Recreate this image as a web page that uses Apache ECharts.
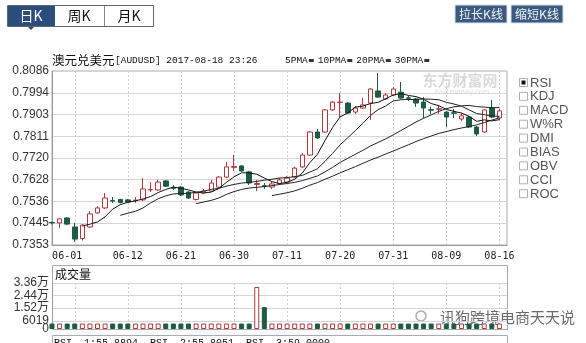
<!DOCTYPE html>
<html><head><meta charset="utf-8">
<script src="https://cdn.jsdelivr.net/npm/echarts@6/dist/echarts.min.js"></script>
<style>html,body{margin:0;padding:0;background:#fff}#c{width:586px;height:343px}</style>
</head><body><div id="c"></div>
<script>
// ---------- data ----------
const categories = ['05-30','05-31','06-01','06-02','06-05','06-06','06-07','06-08','06-09','06-11',
  '06-12','06-13','06-14','06-15','06-16','06-19','06-20','06-21','06-22','06-23',
  '06-26','06-27','06-28','06-29','06-30','07-03','07-04','07-05','07-06','07-07',
  '07-10','07-11','07-12','07-13','07-14','07-17','07-18','07-19','07-20','07-21',
  '07-24','07-25','07-26','07-27','07-28','07-31','08-01','08-02','08-03','08-04',
  '08-07','08-08','08-09','08-10','08-11','08-12','08-13','08-14','08-15','08-16',''];
const openP  = [0.7448,0.7446,0.7467,0.7429,0.7380,0.7429,0.7488,0.7509,0.7540,0.7545,
  0.7543,0.7540,0.7543,0.7585,0.7585,0.7623,0.7594,0.7597,0.7576,0.7545,
  0.7572,0.7580,0.7597,0.7639,0.7680,0.7686,0.7661,0.7608,0.7603,0.7597,
  0.7612,0.7618,0.7639,0.7682,0.7732,0.7829,0.7829,0.7922,0.7953,0.7951,
  0.7913,0.7930,0.7951,0.8002,0.7968,0.7985,0.7997,0.7973,0.7968,0.7955,
  0.7923,0.7925,0.7913,0.7910,0.7884,0.7892,0.7850,0.7829,0.7930,0.7888];
const closeP = [0.7446,0.7463,0.7441,0.7378,0.7437,0.7484,0.7509,0.7551,0.7538,0.7532,
  0.7534,0.7542,0.7589,0.7587,0.7618,0.7601,0.7592,0.7564,0.7551,0.7572,
  0.7580,0.7614,0.7639,0.7682,0.7684,0.7665,0.7614,0.7612,0.7601,0.7610,
  0.7627,0.7635,0.7677,0.7732,0.7829,0.7804,0.7922,0.7955,0.7955,0.7909,
  0.7930,0.7943,0.8010,0.7976,0.7985,0.8010,0.7972,0.7971,0.7951,0.7930,
  0.7921,0.7927,0.7892,0.7908,0.7897,0.7850,0.7821,0.7922,0.7892,0.7918];
const lowP   = [0.7440,0.7425,0.7437,0.7366,0.7372,0.7425,0.7484,0.7505,0.7530,0.7528,
  0.7530,0.7530,0.7538,0.7576,0.7580,0.7597,0.7585,0.7559,0.7547,0.7541,
  0.7568,0.7576,0.7593,0.7635,0.7665,0.7661,0.7606,0.7580,0.7589,0.7589,
  0.7606,0.7614,0.7635,0.7677,0.7728,0.7800,0.7825,0.7918,0.7892,0.7905,
  0.7905,0.7926,0.7880,0.7972,0.7964,0.7981,0.7968,0.7960,0.7935,0.7888,
  0.7905,0.7905,0.7850,0.7888,0.7876,0.7846,0.7812,0.7825,0.7888,0.7880];
const highP  = [0.7452,0.7467,0.7471,0.7446,0.7441,0.7496,0.7517,0.7572,0.7555,0.7547,
  0.7547,0.7555,0.7635,0.7618,0.7627,0.7627,0.7606,0.7601,0.7580,0.7576,
  0.7589,0.7627,0.7644,0.7703,0.7732,0.7690,0.7665,0.7627,0.7614,0.7618,
  0.7635,0.7644,0.7682,0.7740,0.7833,0.7842,0.7926,0.7960,0.7993,0.7955,
  0.7939,0.7972,0.8014,0.8078,0.7993,0.8018,0.8040,0.7981,0.7972,0.7976,
  0.7935,0.7943,0.7918,0.7926,0.7909,0.7897,0.7854,0.7926,0.7964,0.7926];
const volume = [4000,4000,4000,4000,4000,4000,4000,4000,4000,4000,
  4000,4000,4000,4000,4000,4000,4000,4000,4000,4000,
  4000,4000,4000,4000,4000,4000,4000,30700,16000,4000,
  4000,4000,4000,4000,4000,4000,4000,4000,4000,4000,
  4000,4000,4000,4000,4000,4000,4000,4000,4000,4000,
  4000,4000,4000,4000,4000,4000,4000,4000,4000,4000];
const ma5 = [null,null,null,null,0.7433,0.7441,0.7450,0.7472,0.7504,0.7523,
  0.7533,0.7539,0.7547,0.7557,0.7574,0.7587,0.7597,0.7592,0.7585,0.7576,
  0.7572,0.7576,0.7591,0.7617,0.7640,0.7657,0.7657,0.7651,0.7635,0.7620,
  0.7612,0.7617,0.7630,0.7656,0.7700,0.7735,0.7793,0.7848,0.7893,0.7909,
  0.7934,0.7938,0.7949,0.7954,0.7969,0.7985,0.7991,0.7983,0.7978,0.7967,
  0.7949,0.7940,0.7924,0.7916,0.7909,0.7895,0.7874,0.7880,0.7876,0.7881];
const ma10 = [null,null,null,null,null,null,null,null,null,0.7478,
  0.7487,0.7495,0.7509,0.7530,0.7548,0.7560,0.7568,0.7570,0.7571,0.7575,
  0.7580,0.7587,0.7592,0.7601,0.7608,0.7614,0.7617,0.7621,0.7626,0.7630,
  0.7635,0.7637,0.7641,0.7646,0.7660,0.7674,0.7705,0.7739,0.7775,0.7805,
  0.7835,0.7866,0.7899,0.7923,0.7939,0.7960,0.7965,0.7966,0.7966,0.7968,
  0.7967,0.7965,0.7954,0.7947,0.7938,0.7922,0.7907,0.7902,0.7896,0.7895];
const ma20 = [null,null,null,null,null,null,null,null,null,null,
  null,null,null,null,null,null,null,null,null,0.7527,
  0.7534,0.7541,0.7551,0.7566,0.7578,0.7587,0.7593,0.7596,0.7599,0.7603,
  0.7608,0.7612,0.7617,0.7624,0.7634,0.7644,0.7661,0.7680,0.7701,0.7718,
  0.7735,0.7752,0.7770,0.7785,0.7800,0.7817,0.7835,0.7853,0.7871,0.7887,
  0.7901,0.7916,0.7927,0.7935,0.7939,0.7941,0.7936,0.7934,0.7931,0.7932];
const ma30 = [null,null,null,null,null,null,null,null,null,null,
  null,null,null,null,null,null,null,null,null,null,
  null,null,null,null,null,null,null,null,null,0.7561,
  0.7567,0.7573,0.7581,0.7592,0.7605,0.7616,0.7630,0.7643,0.7657,0.7670,
  0.7683,0.7697,0.7711,0.7723,0.7736,0.7749,0.7762,0.7775,0.7789,0.7801,
  0.7812,0.7823,0.7831,0.7839,0.7846,0.7852,0.7859,0.7869,0.7879,0.7889];
const priceTicks = [0.7353,0.7445,0.7536,0.7628,0.7720,0.7811,0.7903,0.7994,0.8086];
const volumeTicks = [6019,15219,24419,33619];
const volumeZeroTick = [0];
const dateLabels = ['06-01','06-12','06-21','06-30','07-11','07-20','07-31','08-09','08-16'];
const gridDates = ['06-02','06-12','06-21','06-30','07-11','07-20','07-31','08-09','08-16'];
const indicatorNames = ['RSI','KDJ','MACD','W%R','DMI','BIAS','OBV','CCI','ROC'];
const maNames = ['5PMA','10PMA','20PMA','30PMA'];

// ---------- styles ----------
const UP = '#b5383c', DOWN = '#1d5b43';
const candleData = openP.map((o, i) => [o, closeP[i], lowP[i], highP[i]]);
const volData = volume.map((v, i) => {
  const up = closeP[i] >= openP[i];
  return { value: v, itemStyle: { color: up ? '#ffffff' : DOWN, borderColor: up ? UP : DOWN, borderWidth: 1 } };
});
const fmtVol = v => v >= 10000 ? (v / 10000).toFixed(2) + '万' : String(v);
const numFont = 'Liberation Sans, Noto Sans CJK SC';
const vDash = { show: true, lineStyle: { color: '#cfcfcf', type: [2, 2] } };

const graphics = [];
// top-left period buttons
graphics.push({ type: 'rect', shape: { x: 7.5, y: 5.5, width: 146, height: 21 }, style: { fill: '#fff', stroke: '#666' } });
graphics.push({ type: 'rect', shape: { x: 8, y: 6, width: 47, height: 20 }, style: { fill: '#2b4d7e' } });
graphics.push({ type: 'line', shape: { x1: 104.5, y1: 6, x2: 104.5, y2: 26 }, style: { stroke: '#888' } });
graphics.push({ type: 'polygon', shape: { points: [[28, 27], [34, 27], [31, 30]] }, style: { fill: '#2b4d7e' } });
[['日K', 31, '#fff'], ['周K', 79, '#111'], ['月K', 129, '#111']].forEach(b => {
  graphics.push({ type: 'text', x: b[1], y: 16, style: { text: b[0], font: '14px "Noto Sans CJK SC"', fill: b[2], textAlign: 'center', textVerticalAlign: 'middle' } });
});
// top-right zoom buttons
[['拉长K线', 455], ['缩短K线', 511]].forEach(b => {
  graphics.push({ type: 'rect', shape: { x: b[1], y: 5, width: 52, height: 18 }, style: { fill: '#3b5a80', stroke: '#d9e2ec' } });
  graphics.push({ type: 'text', x: b[1] + 26, y: 14, style: { text: b[0], font: '12px "Noto Sans CJK SC"', fill: '#eef3f8', textAlign: 'center', textVerticalAlign: 'middle' } });
});
// title
graphics.push({ type: 'text', x: 52, y: 60, style: { text: '澳元兑美元', font: '12.5px "Noto Sans CJK SC"', fill: '#111', textVerticalAlign: 'middle' } });
graphics.push({ type: 'text', x: 115, y: 60, style: { text: '[AUDUSD] 2017-08-18 23:26', font: '9.5px "Liberation Mono"', fill: '#111', textVerticalAlign: 'middle' } });
let lx = 285;
maNames.forEach(n => {
  graphics.push({ type: 'text', x: lx, y: 60, style: { text: n, font: '9.5px "Liberation Mono"', fill: '#111', textVerticalAlign: 'middle' } });
  const w = n.length * 5.7;
  graphics.push({ type: 'rect', shape: { x: lx + w + 1, y: 59, width: 5, height: 3 }, style: { fill: '#333' } });
  lx += w + 10;
});
// watermark
graphics.push({ type: 'text', x: 460, y: 80, style: { text: '东方财富网', font: 'bold 15px "Noto Sans CJK SC"', fill: 'rgba(150,150,150,0.35)', textAlign: 'center', textVerticalAlign: 'middle' } });
graphics.push({ type: 'text', x: 462, y: 92, style: { text: 'eastmoney.com', font: '7px "DejaVu Sans"', fill: 'rgba(150,150,150,0.35)', textAlign: 'center', textVerticalAlign: 'middle' } });
// indicator check boxes
indicatorNames.forEach((n, i) => {
  const y = 83 + i * 13.9;
  graphics.push({ type: 'rect', shape: { x: 519.5, y: y - 4.5, width: 8, height: 8 }, style: { fill: '#fff', stroke: '#b0b0b0' } });
  if (i === 0) graphics.push({ type: 'rect', shape: { x: 521.5, y: y - 2.5, width: 4, height: 4 }, style: { fill: '#111' } });
  graphics.push({ type: 'text', x: 530, y: y, style: { text: n, font: '13px "Liberation Sans"', fill: '#555', textVerticalAlign: 'middle' } });
});
// volume panel frame + caption
graphics.push({ type: 'rect', shape: { x: 52.5, y: 265.5, width: 455, height: 64 }, style: { fill: 'none', stroke: '#aaa' } });
graphics.push({ type: 'text', x: 55, y: 274, style: { text: '成交量', font: '12px "Noto Sans CJK SC"', fill: '#111', textVerticalAlign: 'middle' } });
// RSI panel (cut off)
graphics.push({ type: 'rect', shape: { x: 52.5, y: 335.5, width: 455, height: 20 }, style: { fill: 'none', stroke: '#aaa' } });
graphics.push({ type: 'text', x: 54, y: 343, style: { text: 'RSI  1:55.8894  RSI  2:55.8051  RSI  3:59.0000', font: '10px "Liberation Mono"', fill: '#111', textVerticalAlign: 'middle' } });
// wechat watermark
graphics.push({ type: 'circle', shape: { cx: 421, cy: 316, r: 5 }, style: { fill: 'none', stroke: '#aaa', lineWidth: 1.5 } });
graphics.push({ type: 'text', x: 440, y: 317, style: { text: '讯狗跨境电商天天说', font: '15px "Noto Sans CJK SC"', fill: '#6a6a6a', stroke: '#fff', lineWidth: 2, textVerticalAlign: 'middle' } });

const volLabelStyle = { formatter: fmtVol, color: '#333', fontFamily: numFont, fontSize: 12, margin: 3, showMinLabel: true, showMaxLabel: true, hideOverlap: false };

const chart = echarts.init(document.getElementById('c'), null, { renderer: 'canvas' });
chart.setOption({
  animation: false,
  backgroundColor: '#fff',
  grid: [
    { left: 52, top: 71, width: 455, height: 174, show: true, borderColor: '#aaa', backgroundColor: 'transparent' },
    { left: 52, top: 283, width: 455, height: 46 }
  ],
  xAxis: [
    { gridIndex: 0, type: 'category', data: categories, boundaryGap: false,
      axisLine: { lineStyle: { color: '#999' } }, axisTick: { show: false },
      axisLabel: { interval: (i, v) => dateLabels.includes(v), color: '#222', fontFamily: 'DejaVu Sans Mono', fontSize: 10, margin: 6 },
      splitLine: Object.assign({ interval: (i, v) => gridDates.includes(v) }, vDash) },
    { gridIndex: 1, type: 'category', data: categories, boundaryGap: false,
      axisLine: { show: false }, axisTick: { show: false }, axisLabel: { show: false },
      splitLine: Object.assign({ interval: (i, v) => gridDates.includes(v) }, vDash) }
  ],
  yAxis: [
    { gridIndex: 0, type: 'value', min: 0.7353, max: 0.8086,
      axisLine: { show: true, lineStyle: { color: '#999' } },
      axisTick: { show: false, customValues: priceTicks },
      axisLabel: { customValues: priceTicks, formatter: v => v.toFixed(4), color: '#333', fontFamily: numFont, fontSize: 12, margin: 3, hideOverlap: false },
      splitLine: { show: true, lineStyle: { color: '#d6d6d6' } } },
    { gridIndex: 1, type: 'value', min: 0, max: 33619,
      axisLine: { show: true, lineStyle: { color: '#999' } },
      axisTick: { show: false, customValues: volumeTicks },
      axisLabel: Object.assign({ customValues: volumeTicks, padding: [0, 0, 4, 0] }, volLabelStyle),
      splitLine: { show: true, lineStyle: { color: '#d6d6d6' } } },
    { gridIndex: 1, type: 'value', min: 0, max: 33619, position: 'left',
      axisLine: { show: false }, splitLine: { show: false },
      axisTick: { show: false, customValues: volumeZeroTick },
      axisLabel: Object.assign({ customValues: volumeZeroTick }, volLabelStyle) }
  ],
  series: [
    { type: 'candlestick', xAxisIndex: 0, yAxisIndex: 0, data: candleData, barWidth: 5, clip: false,
      itemStyle: { color: '#ffffff', color0: DOWN, borderColor: UP, borderColor0: DOWN, borderWidth: 1 } },
    { type: 'line', name: '5PMA', data: ma5, showSymbol: false, lineStyle: { color: '#111', width: 1 }, z: 3 },
    { type: 'line', name: '10PMA', data: ma10, showSymbol: false, lineStyle: { color: '#222', width: 1 }, z: 3 },
    { type: 'line', name: '20PMA', data: ma20, showSymbol: false, lineStyle: { color: '#222', width: 1 }, z: 3 },
    { type: 'line', name: '30PMA', data: ma30, showSymbol: false, lineStyle: { color: '#222', width: 1 }, z: 3 },
    { type: 'bar', xAxisIndex: 1, yAxisIndex: 1, data: volData, barWidth: 5 }
  ],
  graphic: { elements: graphics }
});
</script></body></html>
